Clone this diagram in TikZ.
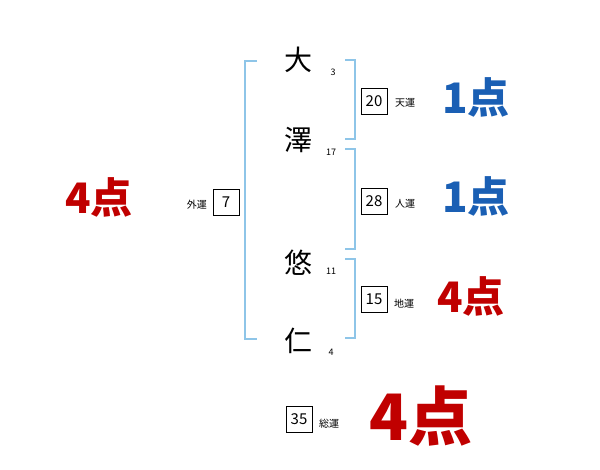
\documentclass[tikz,border=0pt]{standalone}
\usepackage{fontspec}
\setmainfont{Noto Sans CJK JP}
\definecolor{brk}{HTML}{8EC5E8}
\definecolor{sblue}{HTML}{1A5FB4}
\definecolor{sred}{HTML}{C00000}
\begin{document}
\begin{tikzpicture}[x=1pt,y=-1pt,
  brack/.style={draw=brk,line width=1.6pt},
  kanji/.style={font=\fontsize{28}{30}\selectfont,inner sep=0pt},
  stroke/.style={font=\fontsize{9}{10}\selectfont,inner sep=0pt},
  numbox/.style={draw,line width=0.7pt,minimum width=26pt,minimum height=26pt,inner sep=0pt,font=\fontsize{15}{16}\selectfont},
  lbl/.style={font=\fontsize{10}{11}\selectfont,inner sep=0pt},
  score/.style={font=\fontsize{42}{44}\selectfont\bfseries,inner sep=0pt},
  bigscore/.style={font=\fontsize{64}{66}\selectfont\bfseries,inner sep=0pt}]
\useasboundingbox (0,0) rectangle (600,470);
% left bracket
\draw[brack] (257,61) -- (245,61) -- (245,339) -- (257,339);
% right brackets
\draw[brack] (345,60) -- (355,60) -- (355,139) -- (345,139);
\draw[brack] (345,149) -- (355,149) -- (355,249) -- (345,249);
\draw[brack] (345,259) -- (355,259) -- (355,338) -- (345,338);
% name characters
\node[kanji] (c1) at (298,60) {大};
\node[kanji] (c2) at (298,140) {澤};
\node[kanji] (c3) at (298,263) {悠};
\node[kanji] (c4) at (298,341) {仁};
\node[stroke] (s1) at (333,72) {3};
\node[stroke] (s2) at (331,152) {17};
\node[stroke] (s3) at (331,271) {11};
\node[stroke] (s4) at (331,352) {4};
% boxes
\node[numbox] (b1) at (374,101) {20};
\node[lbl,anchor=west] (l1) at (395,103) {天運};
\node[numbox] (b2) at (374,201) {28};
\node[lbl,anchor=west] (l2) at (395,204) {人運};
\node[numbox] (b3) at (374,299) {15};
\node[lbl,anchor=west] (l3) at (394,304) {地運};
\node[numbox] (b4) at (226,202) {7};
\node[lbl,anchor=east] (l4) at (207,205) {外運};
\node[numbox] (b5) at (299,419) {35};
\node[lbl,anchor=west] (l5) at (319,424) {総運};
% scores
\node[score,text=sblue] (p1) at (476,97) {1点};
\node[score,text=sblue] (p2) at (476,196) {1点};
\node[score,text=sred] (p3) at (471,296) {4点};
\node[score,text=sred] (p4) at (99,197) {4点};
\node[bigscore,text=sred] (p5) at (421,416) {4点};
\end{tikzpicture}
\end{document}
